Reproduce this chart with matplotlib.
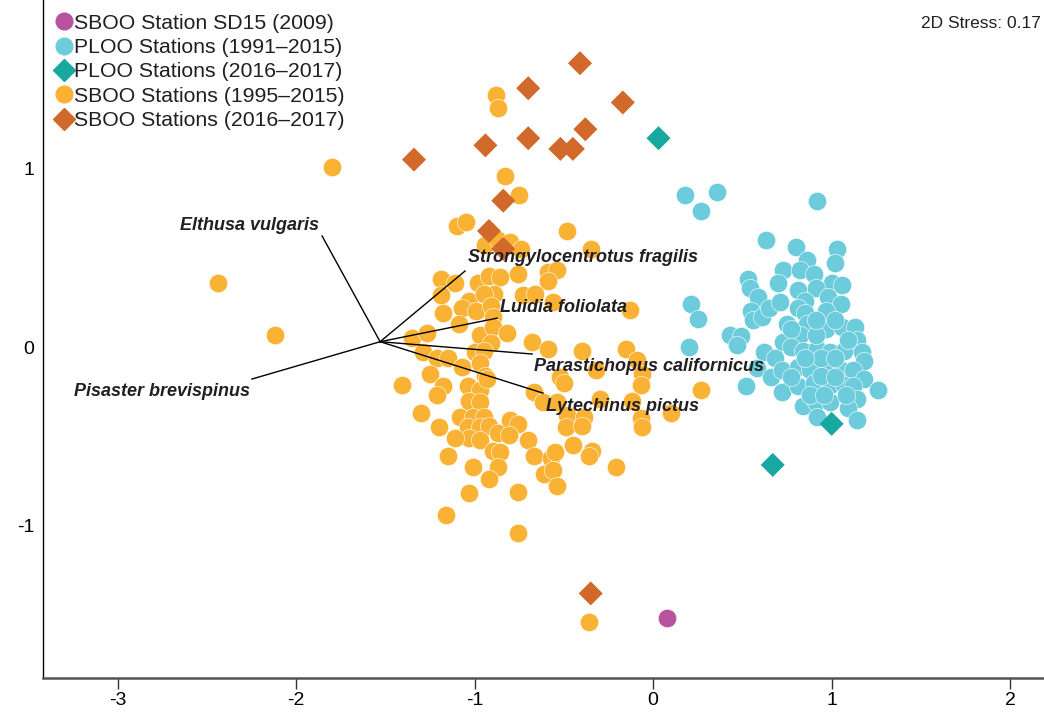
import numpy as np
import matplotlib
matplotlib.use('Agg')
import matplotlib.pyplot as plt
from matplotlib.lines import Line2D

plt.rcParams['font.family'] = ['Liberation Sans', 'DejaVu Sans']
plt.rcParams['axes.unicode_minus'] = False

# nMDS coordinates
sboo_old_x = [-1.80, -2.44, -2.12, -0.88, -0.87, -0.83, -0.75, -0.36, -0.76, -1.16, -1.03,
              -1.10, -1.05, -0.48, -0.94, -0.87, -0.80, -0.74, -0.35,
              -1.19, -1.11, -0.98, -0.92, -0.86, -0.76, -0.59, -0.54, -0.59,
              -1.19, -1.03, -0.89, -0.95, -0.73, -0.66, -0.56,
              -1.18, -1.07, -0.99, -0.91, -0.90, -1.09, -0.13,
              -1.35, -1.27, -0.97, -0.90, -0.82, -0.91, -0.68, -0.59, -0.40, -0.15, -0.09,
              -1.29, -1.21, -1.15, -1.00, -0.95, -0.97, -1.07, -0.94, -1.25, -1.41,
              -0.52, -0.50, -0.32, -0.06, -0.07, 0.27,
              -1.18, -1.21, -1.04, -0.97, -0.93, -1.03, -0.97, -0.67, -0.62, -0.54,
              -1.30, -1.08, -1.01, -0.95, -1.04, -0.97, -0.92, -1.03, -0.97, -0.87,
              -0.80, -0.76, -0.81, -1.20, -1.11, -0.70, -0.90, -0.86, -1.15, -0.67,
              -0.57, -0.55, -1.01, -0.87, -0.61, -0.56, -0.92, -0.54, -0.76,
              -0.48, -0.39, -0.49, -0.40, -0.30, -0.12, -0.07, -0.06, 0.10, -0.45,
              -0.34, -0.36, -0.21]
sboo_old_y = [1.01, 0.36, 0.07, 1.41, 1.34, 0.96, 0.85, -1.54, -1.04, -0.94, -0.82,
              0.68, 0.70, 0.65, 0.57, 0.60, 0.59, 0.55, 0.55,
              0.38, 0.36, 0.36, 0.40, 0.39, 0.41, 0.42, 0.43, 0.37,
              0.29, 0.26, 0.30, 0.30, 0.29, 0.30, 0.25,
              0.19, 0.22, 0.20, 0.23, 0.17, 0.13, 0.21,
              0.05, 0.08, 0.07, 0.11, 0.08, 0.02, 0.03, -0.01, -0.02, -0.01, -0.07,
              -0.03, -0.06, -0.06, -0.03, -0.02, -0.09, -0.11, -0.16, -0.15, -0.21,
              -0.17, -0.20, -0.13, -0.15, -0.21, -0.24,
              -0.22, -0.27, -0.22, -0.24, -0.18, -0.30, -0.31, -0.25, -0.31, -0.31,
              -0.37, -0.39, -0.39, -0.39, -0.45, -0.45, -0.44, -0.51, -0.52, -0.48,
              -0.41, -0.43, -0.49, -0.45, -0.51, -0.52, -0.58, -0.59, -0.61, -0.61,
              -0.62, -0.59, -0.67, -0.67, -0.71, -0.69, -0.74, -0.78, -0.81,
              -0.38, -0.39, -0.45, -0.44, -0.29, -0.30, -0.40, -0.45, -0.37, -0.55,
              -0.58, -0.61, -0.67]

sboo_new_x = [-0.41, -0.70, -0.17, -0.38, -0.94, -0.70, -0.52, -0.45, -1.34, -0.84, -0.92, -0.84, -0.35]
sboo_new_y = [1.59, 1.45, 1.37, 1.22, 1.13, 1.17, 1.11, 1.11, 1.05, 0.82, 0.65, 0.55, -1.38]

ploo_old_x = [0.18, 0.36, 0.27, 0.92, 0.63, 0.80, 1.03, 1.02, 0.86,
              0.73, 0.82, 0.90, 0.53, 0.54, 0.70, 1.00, 1.06, 0.59,
              0.81, 0.91, 0.85, 0.98, 1.05, 0.55, 0.56, 0.61, 0.65, 0.71,
              0.81, 0.85, 0.97, 0.75, 0.86, 0.97, 1.06, 1.13, 1.14,
              0.43, 0.49, 0.47, 0.21, 0.25, 0.20,
              0.73, 0.82, 0.62, 0.68, 0.77, 0.84, 0.92, 0.99, 1.07, 1.17, 1.18,
              0.58, 0.66, 0.72, 0.81, 0.88, 0.98, 1.05, 1.12, 1.18,
              0.52, 0.72, 0.81, 0.90, 0.99, 1.07, 1.12, 1.26, 1.14,
              0.84, 0.91, 0.99, 1.09, 0.92, 1.14,
              0.77, 0.91, 0.94, 1.02, 0.85, 0.77, 0.94, 1.02, 1.08, 0.88, 0.96,
              0.91, 1.02, 1.09]
ploo_old_y = [0.85, 0.87, 0.76, 0.82, 0.60, 0.56, 0.55, 0.47, 0.49,
              0.43, 0.43, 0.41, 0.38, 0.33, 0.36, 0.36, 0.35, 0.28,
              0.32, 0.33, 0.26, 0.28, 0.24, 0.20, 0.15, 0.17, 0.22, 0.25,
              0.22, 0.19, 0.20, 0.13, 0.13, 0.10, 0.11, 0.11, 0.04,
              0.07, 0.06, 0.01, 0.24, 0.16, 0.00,
              0.03, 0.07, -0.03, -0.06, 0.00, -0.02, -0.01, -0.03, -0.02, -0.03, -0.08,
              -0.12, -0.17, -0.13, -0.11, -0.13, -0.11, -0.13, -0.13, -0.18,
              -0.22, -0.25, -0.22, -0.20, -0.21, -0.21, -0.22, -0.24, -0.29,
              -0.33, -0.31, -0.31, -0.34, -0.39, -0.41,
              0.10, 0.07, -0.06, -0.06, -0.06, -0.17, -0.16, -0.17, -0.27, -0.27, -0.27,
              0.15, 0.15, 0.04]

ploo_new_x = [0.03, 1.00, 0.67]
ploo_new_y = [1.17, -0.43, -0.66]

sd15_x = [0.08]
sd15_y = [-1.52]

# species vectors (origin + tip) and their labels
species = ['Elthusa vulgaris', 'Strongylocentrotus fragilis', 'Luidia foliolata',
           'Parastichopus californicus', 'Lytechinus pictus', 'Pisaster brevispinus']
vec_origin = (-1.53, 0.03)
vec_x = [-1.855, -1.054, -0.874, -0.678, -0.617, -2.248]
vec_y = [0.622, 0.426, 0.162, -0.039, -0.258, -0.179]
label_x = [-1.87, -1.04, -0.86, -0.665, -0.60, -2.26]
label_y = [0.68, 0.50, 0.22, -0.11, -0.335, -0.25]
label_ha = ['right', 'left', 'left', 'left', 'left', 'right']

stress = 0.17

C_SD15 = '#B8519E'
C_PLOO_OLD = '#6CCCDC'
C_PLOO_NEW = '#17A89F'
C_SBOO_OLD = '#F9B233'
C_SBOO_NEW = '#D0692A'

fig = plt.figure(figsize=(10.44, 7.13), dpi=100)
ax = fig.add_axes([0.041, 0.049, 0.959, 0.951])

circ = 175
diam = 150
ax.scatter(sboo_old_x, sboo_old_y, s=circ, c=C_SBOO_OLD, edgecolors='white', linewidths=0.4, zorder=2)
ax.scatter(sboo_new_x, sboo_new_y, s=diam, c=C_SBOO_NEW, marker='D', edgecolors='none', zorder=3)
ax.scatter(ploo_old_x, ploo_old_y, s=circ, c=C_PLOO_OLD, edgecolors='white', linewidths=0.4, zorder=2)
ax.scatter(ploo_new_x, ploo_new_y, s=diam, c=C_PLOO_NEW, marker='D', edgecolors='none', zorder=3)
ax.scatter(sd15_x, sd15_y, s=circ, c=C_SD15, edgecolors='white', linewidths=0.4, zorder=3)

for i, name in enumerate(species):
    ax.plot([vec_origin[0], vec_x[i]], [vec_origin[1], vec_y[i]], color='black', lw=1.0, zorder=4)
    ax.text(label_x[i], label_y[i], name, ha=label_ha[i], va='center', fontsize=13,
            fontstyle='italic', fontweight='bold', color='#231F20', zorder=5)

ax.set_xlim(-3.42, 2.19)
ax.set_ylim(-1.854, 1.944)
ax.set_xticks([-3, -2, -1, 0, 1, 2])
ax.set_yticks([-1, 0, 1])
ax.spines['top'].set_visible(False)
ax.spines['right'].set_visible(False)
ax.spines['bottom'].set_color('#555555')
ax.spines['bottom'].set_linewidth(1.8)
ax.spines['left'].set_linewidth(1.0)
ax.tick_params(axis='x', length=8, width=1, color='#333333', labelsize=14, pad=2)
ax.tick_params(axis='y', length=0, labelsize=14, pad=6)

ax.text(0.997, 0.965, f'2D Stress: {stress}', transform=ax.transAxes, ha='right', va='center',
        fontsize=12.5, color='#231F20')

handles = [
    Line2D([], [], ls='none', marker='o', ms=12, color=C_SD15, label='SBOO Station SD15 (2009)'),
    Line2D([], [], ls='none', marker='o', ms=12, color=C_PLOO_OLD, label='PLOO Stations (1991\u20132015)'),
    Line2D([], [], ls='none', marker='D', ms=11, color=C_PLOO_NEW, label='PLOO Stations (2016\u20132017)'),
    Line2D([], [], ls='none', marker='o', ms=12, color=C_SBOO_OLD, label='SBOO Stations (1995\u20132015)'),
    Line2D([], [], ls='none', marker='D', ms=11, color=C_SBOO_NEW, label='SBOO Stations (2016\u20132017)'),
]
ax.legend(handles=handles, loc='upper left', bbox_to_anchor=(-0.006, 1.008), frameon=False,
          fontsize=15.3, handlelength=0.8, handletextpad=0.05, labelspacing=0.25, borderpad=0.4,
          labelcolor='#231F20')

fig.savefig('out.png', dpi=100)
